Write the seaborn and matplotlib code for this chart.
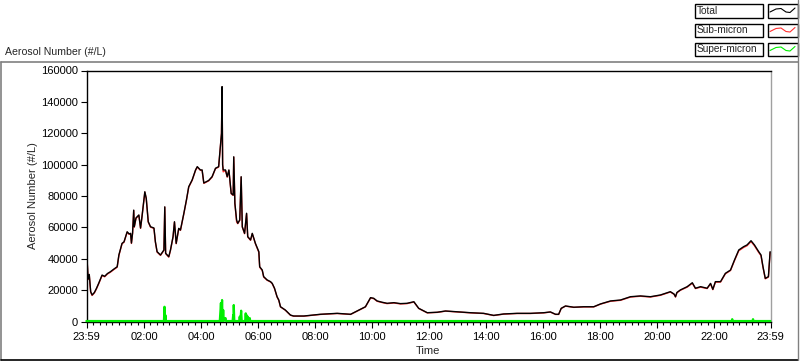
import matplotlib
matplotlib.use("Agg")
import matplotlib.pyplot as plt
import seaborn as sns
import numpy as np
import pandas as pd
from matplotlib.patches import Rectangle
from matplotlib.lines import Line2D

# ---------------- data (hours since 00:00; start is 23:59 of previous day) -------------
time_h = [-0.01, 0.01, 0.04, 0.08, 0.13, 0.18, 0.26, 0.33, 0.41, 0.53, 0.62, 0.72, 0.82, 0.95,
          1.06, 1.12, 1.23, 1.30, 1.41, 1.48, 1.53, 1.56, 1.60, 1.64, 1.66, 1.72, 1.82, 1.88,
          1.93, 2.03, 2.08, 2.15, 2.23, 2.35, 2.40, 2.46, 2.58, 2.70, 2.73, 2.76, 2.87, 2.93,
          3.02, 3.07, 3.13, 3.22, 3.28, 3.40, 3.49, 3.57, 3.69, 3.81, 3.87, 3.98, 4.04, 4.10,
          4.27, 4.39, 4.51, 4.62, 4.68, 4.72, 4.74, 4.76, 4.78, 4.86, 4.92, 4.98, 5.06, 5.13,
          5.15, 5.19, 5.25, 5.29, 5.36, 5.41, 5.45, 5.53, 5.60, 5.64, 5.74, 5.80, 5.91, 6.03,
          6.06, 6.15, 6.20, 6.32, 6.44, 6.50, 6.58, 6.67, 6.73, 6.79, 6.96, 7.14, 7.25, 7.61,
          8.19, 8.78, 9.25, 9.48, 9.77, 9.95, 10.06, 10.18, 10.35, 10.53, 10.77, 11.00, 11.23,
          11.47, 11.64, 11.94, 12.29, 12.58, 12.99, 13.46, 13.92, 14.27, 14.62, 15.09, 15.56,
          16.03, 16.26, 16.44, 16.55, 16.64, 16.79, 17.08, 17.43, 17.78, 18.02, 18.37, 18.72,
          19.07, 19.42, 19.77, 20.12, 20.47, 20.60, 20.65, 20.70, 20.82, 21.06, 21.24, 21.35,
          21.53, 21.76, 21.88, 21.96, 22.05, 22.23, 22.40, 22.58, 22.72, 22.87, 23.04, 23.16,
          23.30, 23.42, 23.57, 23.65, 23.72, 23.80, 23.91, 23.97]

total = [20000, 37300, 27000, 30000, 19000, 16900, 18500, 21000, 24300, 29600, 28800, 30600,
         31700, 33500, 34900, 42400, 49800, 50800, 57200, 55800, 56200, 50000, 56500, 71000,
         60400, 66000, 67900, 59600, 66800, 82700, 78500, 63600, 60400, 59600, 50900, 44500,
         42400, 45600, 73100, 43500, 41300, 45600, 54100, 63600, 49800, 59400, 58300, 69000,
         77500, 85900, 90200, 96600, 98700, 96600, 96600, 88300, 89900, 92300, 97700, 98700,
         111400, 120000, 149700, 100000, 96600, 96600, 92300, 96600, 81700, 80600, 105000,
         75300, 64700, 62600, 64700, 92300, 60400, 56200, 69000, 54100, 52000, 56200, 49800,
         44500, 34900, 32800, 28600, 26500, 25400, 24300, 21200, 15800, 13700, 9400, 7300,
         4100, 3500, 3500, 4600, 5200, 4600, 6700, 9400, 15200, 14800, 13100, 12300, 11600,
         12000, 11400, 11600, 12600, 8400, 5600, 5900, 6700, 6200, 5600, 5200, 3900, 4800,
         5200, 5200, 5600, 6100, 4600, 4600, 8400, 9900, 9100, 9400, 9400, 11200, 13100,
         13700, 15800, 16300, 15800, 16900, 19000, 17500, 15800, 18500, 20100, 22200, 24700,
         21200, 22200, 21200, 24300, 20500, 25400, 25400, 30700, 32800, 39200, 45600, 47700,
         48800, 51500, 48800, 44500, 42400, 34900, 27500, 28600, 44500]

sub_micron = [19700, 37000, 26700, 29700, 18700, 16600, 18200, 20700, 24000, 29300, 28500, 30300,
              31400, 33200, 34600, 42150, 49550, 50550, 56950, 55550, 55950, 49750, 56250, 70750,
              60150, 65750, 67650, 59350, 66550, 82450, 78250, 63350, 60150, 59350, 50650, 44250,
              42150, 45350, 72850, 43250, 41050, 45350, 53850, 63350, 49550, 59150, 58050, 68750,
              77250, 85650, 89950, 96350, 98450, 96350, 96350, 88050, 89650, 92050, 97450, 98450,
              111150, 119750, 149450, 99750, 95400, 96350, 92050, 96350, 81450, 80350, 104750,
              75050, 63500, 62350, 64450, 92050, 60150, 55950, 68750, 53850, 51750, 55950, 49550,
              44100, 34600, 32500, 28300, 26300, 25200, 24100, 21000, 15600, 13500, 9300, 7200,
              4000, 3400, 3400, 4500, 5100, 4500, 6600, 9300, 15000, 14600, 12900, 12100, 11400,
              11800, 11200, 11400, 12400, 8300, 5500, 5800, 6600, 6100, 5500, 5100, 3800, 4700,
              5100, 5100, 5500, 6000, 4500, 4500, 8300, 9800, 9000, 9300, 9300, 11100, 12900,
              13500, 15600, 16100, 15600, 16700, 18800, 17300, 15600, 18300, 19900, 21900, 24400,
              21000, 21900, 21000, 24000, 20300, 25100, 25100, 30400, 32500, 38800, 45100, 47200,
              48300, 51000, 48300, 44000, 42000, 34500, 27200, 28300, 44000]

super_time_h = [-0.02, 2.70, 2.72, 2.74, 2.75, 2.77, 4.66, 4.70, 4.72, 4.74, 4.76, 4.78, 4.80,
                4.86, 4.88, 5.11, 5.13, 5.14, 5.15, 5.17, 5.34, 5.36, 5.38, 5.41, 5.43, 5.55,
                5.57, 5.59, 5.60, 5.62, 5.64, 5.66, 5.71, 5.73, 22.62, 22.64, 22.66, 23.35,
                23.37, 23.39, 23.98]
super_micron = [300, 300, 9400, 300, 4100, 300, 300, 11800, 300, 13700, 300, 7300, 300,
                2200, 300, 300, 4100, 300, 10500, 300, 300, 3100, 300, 6900, 300, 300,
                5200, 300, 4100, 300, 3100, 300, 2200, 300, 300, 1500, 300, 300,
                1500, 300, 300]

x_tick_labels = ["23:59", "02:00", "04:00", "06:00", "08:00", "10:00", "12:00",
                 "14:00", "16:00", "18:00", "20:00", "22:00", "23:59"]
y_ticks = [0, 20000, 40000, 60000, 80000, 100000, 120000, 140000, 160000]
legend_labels = ["Total", "Sub-micron", "Super-micron"]

# ---------------- figure -------------
W, H = 800, 361
sns.set_theme(style="white")
plt.rcParams["font.family"] = ["Liberation Sans", "DejaVu Sans"]
fig = plt.figure(figsize=(W / 100, H / 100), dpi=100)
fig.patch.set_facecolor("white")

def fx(x):
    return x / W

def fy(y):
    return 1 - y / H

ax_l, ax_r, ax_t, ax_b = 86.5, 770.5, 70.5, 321.5
ax = fig.add_axes([fx(ax_l), fy(ax_b), (ax_r - ax_l) / W, (ax_b - ax_t) / H])
ax.set_facecolor("white")

BLACK, RED, GREEN = "#000000", "#ff3030", "#00ee00"

df_main = pd.DataFrame({"t": time_h, "total": total, "sub": sub_micron})
df_sup = pd.DataFrame({"t": super_time_h, "sup": super_micron})

sns.lineplot(data=df_main, x="t", y="sub", ax=ax, color=RED, lw=1.0,
             estimator=None, sort=False, zorder=2)
sns.lineplot(data=df_main, x="t", y="total", ax=ax, color=BLACK, lw=1.0,
             estimator=None, sort=False, zorder=3)
sns.lineplot(data=df_sup, x="t", y="sup", ax=ax, color=GREEN, lw=1.6,
             estimator=None, sort=False, zorder=4, clip_on=False)

x0 = -1 / 60
x1 = 23 + 59 / 60
ax.set_xlim(x0, x1)
ax.set_ylim(0, 160000)

major_x = [x0] + list(range(2, 24, 2)) + [x1]
ax.set_xticks(major_x)
ax.set_xticklabels(x_tick_labels)
minor_x = [k * 2 / 9 for k in range(1, 108) if k % 9 != 0]
ax.set_xticks(minor_x, minor=True)
ax.set_yticks(y_ticks)
ax.set_yticklabels([str(v) for v in y_ticks])

ax.tick_params(axis="both", which="major", direction="out", length=4.5, width=0.8,
               color="black", labelsize=8, labelcolor="black")
ax.tick_params(axis="x", which="major", pad=3)
ax.tick_params(axis="y", which="major", pad=1.5)
ax.tick_params(axis="x", which="minor", direction="out", length=2.5, width=0.8,
               color="black", bottom=True)
ax.tick_params(axis="y", which="minor", left=False)
ax.xaxis.set_ticks_position("bottom")
ax.yaxis.set_ticks_position("left")

for s in ["left", "top", "bottom"]:
    ax.spines[s].set_color("black")
    ax.spines[s].set_linewidth(1.0)
ax.spines["right"].set_color("#a0a0a0")
ax.spines["right"].set_linewidth(1.0)

ax.set_xlabel("Time", fontsize=8, labelpad=2)
ax.set_ylabel("Aerosol Number (#/L)", fontsize=8, labelpad=4)
ax.xaxis.set_label_coords((428 - ax_l) / (ax_r - ax_l), (ax_b - 351) / (ax_b - ax_t))
ax.yaxis.set_label_coords((33 - ax_l) / (ax_r - ax_l), 0.5)
ax.xaxis.label.set_va("center")
ax.yaxis.label.set_va("center")

# top-left panel title
fig.text(fx(5), fy(52), "Aerosol Number (#/L)", fontsize=7.6, ha="left", va="center")

# outer panel frame
frame_top, frame_bot, frame_l, frame_r = 61.5, 359.5, 1.0, 797.5
fig.add_artist(Line2D([fx(frame_l), fx(frame_r)], [fy(frame_top), fy(frame_top)],
                      transform=fig.transFigure, color="#808080", lw=1.2))
fig.add_artist(Line2D([fx(frame_l), fx(frame_l)], [fy(frame_top), fy(frame_bot)],
                      transform=fig.transFigure, color="#808080", lw=1.2))
fig.add_artist(Line2D([fx(frame_l), fx(frame_r)], [fy(frame_bot), fy(frame_bot)],
                      transform=fig.transFigure, color="black", lw=1.2))
fig.add_artist(Line2D([fx(frame_r), fx(frame_r)], [fy(0), fy(frame_bot)],
                      transform=fig.transFigure, color="#808080", lw=1.0))

# legend (LabVIEW style)
rows = [(4, 17.5), (23.5, 37), (42.5, 56)]
colors = [BLACK, RED, GREEN]
for (top, bot), lab, col in zip(rows, legend_labels, colors):
    fig.add_artist(Rectangle((fx(694.5), fy(bot)), (762.5 - 694.5) / W, (bot - top) / H,
                             transform=fig.transFigure, facecolor="white",
                             edgecolor="black", lw=1.0))
    fig.text(fx(696.5), fy((top + bot) / 2), lab, fontsize=7.3, ha="left", va="center")
    fig.add_artist(Rectangle((fx(767.5), fy(bot)), (797.5 - 767.5) / W, (bot - top) / H,
                             transform=fig.transFigure, facecolor="white",
                             edgecolor="black", lw=1.0))
    zx = [770, 776, 781, 786, 790, 795]
    zy = [top + 8, top + 5, top + 4.5, top + 8, top + 8.5, top + 4]
    fig.add_artist(Line2D([fx(v) for v in zx], [fy(v) for v in zy],
                          transform=fig.transFigure, color=col, lw=0.8))

fig.savefig("out.png", dpi=100, facecolor="white")
